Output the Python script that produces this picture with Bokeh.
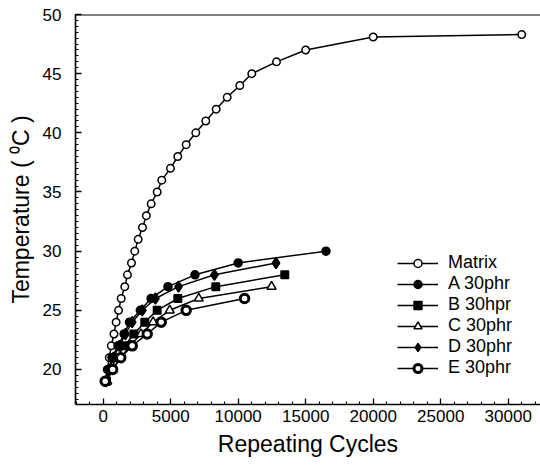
from bokeh.plotting import figure
from bokeh.models import Span, Legend, LegendItem, SingleIntervalTicker, Range1d
from bokeh.embed import file_html
from bokeh.resources import INLINE

# ---- data ----
matrix_x = [150, 300, 450, 600, 800, 960, 1140, 1333, 1600, 1800, 2096, 2341, 2593, 2911,
            3200, 3556, 4000, 4341, 4985, 5526, 6148, 6859, 7600, 8370, 9185, 10119, 11007,
            12837, 15000, 20000, 31000]
matrix_y = [19, 20, 21, 22, 23, 24, 25, 26, 27, 28, 29, 30, 31, 32, 33, 34, 35, 36, 37, 38,
            39, 40, 41, 42, 43, 44, 45, 46, 47, 48.1, 48.3]
a_x = [150, 400, 650, 1100, 1550, 1950, 2750, 3550, 4800, 6800, 10000, 16500]
a_y = [19, 20, 21, 22, 23, 24, 25, 26, 27, 28, 29, 30]
b_x = [250, 550, 1000, 1600, 2270, 3080, 4000, 5530, 8340, 13450]
b_y = [19, 20, 21, 22, 23, 24, 25, 26, 27, 28]
c_x = [300, 700, 1300, 2000, 2800, 3700, 4930, 7080, 12470]
c_y = [19, 20, 21, 22, 23, 24, 25, 26, 27]
d_x = [200, 450, 750, 1200, 1650, 2150, 2900, 3870, 5580, 8240, 12800]
d_y = [19, 20, 21, 22, 23, 24, 25, 26, 27, 28, 29]
e_x = [150, 700, 1300, 2150, 3260, 4300, 6150, 10470]
e_y = [19, 20, 21, 22, 23, 24, 25, 26]

labels = ["Matrix", "A 30phr", "B 30hpr", "C 30phr", "D 30phr", "E 30phr"]

FONT = "Liberation Sans"

p = figure(width=540, height=468, output_backend="svg", toolbar_location=None,
           x_range=Range1d(-2050, 32390), y_range=Range1d(17.04, 50),
           min_border_left=75, min_border_right=0, min_border_top=14, min_border_bottom=64)
p.outline_line_color = None
p.xgrid.visible = False
p.ygrid.visible = False

p.xaxis.ticker = SingleIntervalTicker(interval=5000, num_minor_ticks=5)
p.yaxis.ticker = SingleIntervalTicker(interval=5, num_minor_ticks=10)
for ax in (p.xaxis[0], p.yaxis[0]):
    ax.axis_line_width = 1.6
    ax.axis_line_color = "black"
    ax.major_tick_in = 6
    ax.major_tick_out = 0
    ax.minor_tick_in = 3
    ax.minor_tick_out = 0
    ax.major_tick_line_width = 1.3
    ax.minor_tick_line_width = 1.1
    ax.major_label_text_font = FONT
    ax.major_label_text_font_size = "17px"
    ax.major_label_text_color = "black"
    ax.axis_label_text_font = FONT
    ax.axis_label_text_font_size = "23px"
    ax.axis_label_text_font_style = "normal"
    ax.axis_label_text_color = "black"
p.xaxis.axis_label = "Repeating Cycles"
p.yaxis.axis_label = "Temperature ( \u2070C )"
p.xaxis.major_label_standoff = 5
p.xaxis.axis_label_standoff = 6
p.yaxis.major_label_standoff = 14
p.yaxis.axis_label_standoff = 6

p.add_layout(Span(location=50, dimension="width", line_color="black", line_width=1.8))

# (x, y, marker, fill, size, outline width)
series = [
    (matrix_x, matrix_y, "circle", "white", 7.5, 1.5),
    (a_x, a_y, "circle", "black", 8, 1.5),
    (b_x, b_y, "square", "black", 7.5, 1.5),
    (c_x, c_y, "triangle", "white", 9, 1.5),
    (d_x, d_y, "diamond", "black", 11, 1.5),
    (e_x, e_y, "circle", "white", 8.5, 3.0),
]

items = []
for (xs, ys, marker, fill, size, lw), lab in zip(series, labels):
    ln = p.line(xs, ys, line_color="black", line_width=1.5)
    sc = p.scatter(xs, ys, marker=marker, size=size, fill_color=fill,
                   line_color="black", line_width=lw)
    items.append(LegendItem(label=lab, renderers=[ln, sc]))

legend = Legend(items=items, location=(322, 26), padding=0, margin=0,
                border_line_color=None, background_fill_alpha=0,
                glyph_width=41, glyph_height=20, label_height=20, spacing=-2,
                label_standoff=10, label_text_font=FONT, label_text_font_size="18px",
                label_text_color="black")
p.add_layout(legend)

open("out.html", "w").write(file_html(p, INLINE))
